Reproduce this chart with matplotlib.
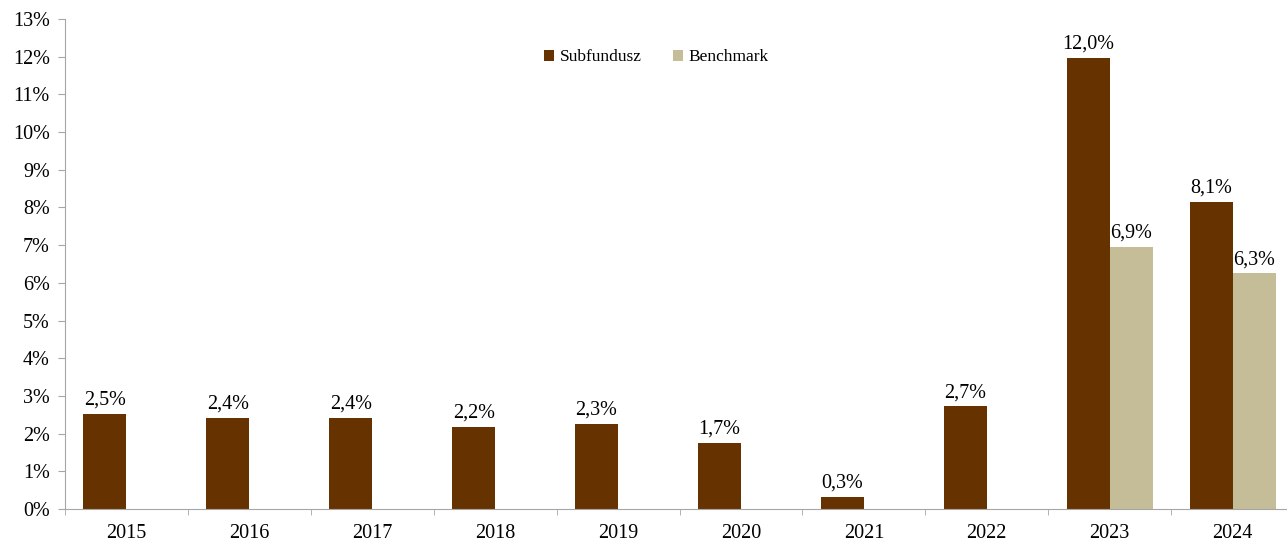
import matplotlib
matplotlib.use('Agg')
import matplotlib.pyplot as plt
import numpy as np

plt.rcParams['font.family'] = ['Liberation Serif', 'DejaVu Serif']

years = ['2015', '2016', '2017', '2018', '2019', '2020', '2021', '2022', '2023', '2024']
subfundusz = [2.53, 2.42, 2.42, 2.17, 2.26, 1.75, 0.32, 2.72, 11.97, 8.15]
benchmark = [None, None, None, None, None, None, None, None, 6.95, 6.25]
sub_labels = ['2,5%', '2,4%', '2,4%', '2,2%', '2,3%', '1,7%', '0,3%', '2,7%', '12,0%', '8,1%']
bench_labels = ['', '', '', '', '', '', '', '', '6,9%', '6,3%']

c_sub = '#663300'
c_bench = '#C4BD97'
c_axis = '#A6A6A6'

fig = plt.figure(figsize=(12.87, 5.44), dpi=100)
# category width in the reference is ~123 px, so the axes runs a bit past the right edge
ax = fig.add_axes([65 / 1287, 35 / 544, 1229 / 1287, 490 / 544])

x = np.arange(len(years))
w = 0.35
ax.bar(x - w / 2, subfundusz, w, color=c_sub, label='Subfundusz', zorder=2)
bx = [xi + w / 2 for xi, b in zip(x, benchmark) if b is not None]
bv = [b for b in benchmark if b is not None]
ax.bar(bx, bv, w, color=c_bench, label='Benchmark', zorder=2)

for xi, v, lab in zip(x, subfundusz, sub_labels):
    ax.annotate(lab, (xi - w / 2, v), xytext=(0, 3), textcoords='offset points',
                ha='center', va='bottom', fontsize=14.5)
for xi, v, lab in zip(x, benchmark, bench_labels):
    if v is not None:
        ax.annotate(lab, (xi + w / 2, v), xytext=(0, 3), textcoords='offset points',
                    ha='center', va='bottom', fontsize=14.5)

ax.set_xlim(-0.5, len(years) - 0.5)
ax.set_ylim(0, 13)
ax.set_yticks(range(0, 14))
ax.set_yticklabels([f'{i}%' for i in range(0, 14)], fontsize=14.5)
ax.set_xticks(x)
ax.set_xticklabels(years, fontsize=14.5)
ax.set_xticks(np.arange(-0.5, len(years)), minor=True)
ax.tick_params(axis='x', which='major', length=0, pad=11)
ax.tick_params(axis='x', which='minor', length=4, color=c_axis, direction='out')
ax.tick_params(axis='y', length=5, color=c_axis, pad=6)

for s in ['top', 'right']:
    ax.spines[s].set_visible(False)
ax.spines['left'].set_color(c_axis)
ax.spines['bottom'].set_color(c_axis)

ax.legend(loc='upper center', bbox_to_anchor=(0.481, 0.97), ncol=2, frameon=False,
          fontsize=12.5, handlelength=0.6, handleheight=0.6, handletextpad=0.3,
          columnspacing=1.8)

fig.savefig('out.png', dpi=100)
